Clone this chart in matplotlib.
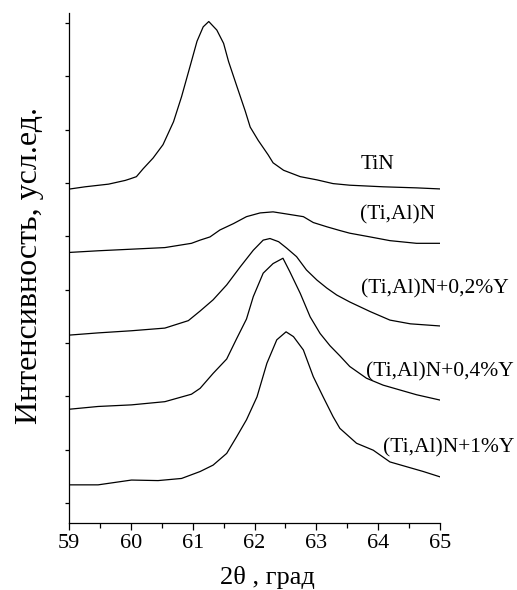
import matplotlib.pyplot as plt
from matplotlib.ticker import MultipleLocator

plt.rcParams['font.family'] = ['Liberation Serif', 'DejaVu Serif']

# 2theta (deg) and intensity (arb. units, curves offset vertically)
tin_x = [59.02, 59.26, 59.64, 59.91, 59.99, 60.09, 60.20, 60.36, 60.52, 60.69, 60.82,
         60.96, 61.07, 61.17, 61.26, 61.39, 61.50, 61.58, 61.71, 61.85, 61.93,
         62.06, 62.22, 62.30, 62.47, 62.74, 63.01, 63.27, 63.54, 64.08, 64.62, 65.0]
tin_y = [5.89, 5.93, 5.98, 6.05, 6.08, 6.12, 6.27, 6.47, 6.72, 7.15, 7.62,
         8.20, 8.66, 8.93, 9.03, 8.87, 8.62, 8.28, 7.83, 7.35, 7.05,
         6.80, 6.53, 6.38, 6.24, 6.12, 6.06, 5.99, 5.96, 5.93, 5.91, 5.89]

tial_x = [59.02, 59.47, 60.01, 60.55, 60.98, 61.12, 61.28, 61.44, 61.66, 61.87, 62.09,
          62.30, 62.52, 62.79, 62.95, 63.17, 63.38, 63.54, 63.87, 64.19, 64.62, 65.0]
tial_y = [4.70, 4.73, 4.76, 4.79, 4.87, 4.93, 4.99, 5.12, 5.24, 5.37, 5.44,
          5.46, 5.42, 5.37, 5.26, 5.18, 5.11, 5.06, 4.99, 4.92, 4.87, 4.87]

y02_x = [59.02, 59.47, 60.01, 60.55, 60.93, 61.12, 61.33, 61.55, 61.77, 61.98, 62.14,
         62.25, 62.39, 62.52, 62.68, 62.84, 63.01, 63.17, 63.33, 63.54, 63.87, 64.19,
         64.52, 65.0]
y02_y = [3.15, 3.19, 3.23, 3.28, 3.42, 3.60, 3.81, 4.09, 4.43, 4.74, 4.93,
         4.96, 4.90, 4.78, 4.62, 4.37, 4.18, 4.03, 3.90, 3.77, 3.59, 3.43,
         3.36, 3.32]

y04_x = [59.02, 59.47, 60.01, 60.55, 60.98, 61.12, 61.33, 61.55, 61.71, 61.87, 61.98,
         62.14, 62.30, 62.46, 62.57, 62.74, 62.90, 63.06, 63.22, 63.38, 63.54, 63.81,
         64.08, 64.35, 64.62, 65.0]
y04_y = [1.76, 1.81, 1.84, 1.90, 2.04, 2.15, 2.43, 2.70, 3.08, 3.45, 3.87,
         4.31, 4.49, 4.59, 4.34, 3.93, 3.49, 3.18, 2.95, 2.76, 2.56, 2.34,
         2.21, 2.12, 2.03, 1.93]

y1_x = [59.02, 59.47, 60.01, 60.44, 60.82, 61.12, 61.33, 61.55, 61.71, 61.87, 62.04,
        62.20, 62.36, 62.51, 62.63, 62.79, 62.95, 63.11, 63.27, 63.38, 63.65, 63.92,
        64.19, 64.46, 64.73, 65.0]
y1_y = [0.34, 0.34, 0.43, 0.42, 0.46, 0.59, 0.71, 0.93, 1.24, 1.56, 1.99,
        2.62, 3.06, 3.21, 3.12, 2.87, 2.37, 1.99, 1.62, 1.40, 1.12, 0.99,
        0.77, 0.68, 0.59, 0.49]

labels = ['TiN', '(Ti,Al)N', '(Ti,Al)N+0,2%Y', '(Ti,Al)N+0,4%Y', '(Ti,Al)N+1%Y']
label_x = [63.71, 63.71, 63.73, 63.81, 64.08]
label_y = [6.35, 5.40, 4.01, 2.46, 1.03]

fig = plt.figure(figsize=(5.17, 5.90), dpi=100)
ax = fig.add_axes([0.1335, 0.1136, 0.7176, 0.8644])

for xs, ys in [(tin_x, tin_y), (tial_x, tial_y), (y02_x, y02_y), (y04_x, y04_y), (y1_x, y1_y)]:
    ax.plot(xs, ys, color='black', lw=0.9)

for lab, lx, ly in zip(labels, label_x, label_y):
    ax.text(lx, ly, lab, fontsize=15.5, ha='left', va='center', clip_on=False)

ax.set_xlim(59, 65)
ax.set_ylim(-0.375, 9.19)
ax.xaxis.set_major_locator(MultipleLocator(1))
ax.xaxis.set_minor_locator(MultipleLocator(0.5))
ax.yaxis.set_major_locator(MultipleLocator(1))
ax.set_yticklabels([])
ax.tick_params(axis='x', which='major', direction='out', length=5, width=0.9, labelsize=16, pad=3)
ax.tick_params(axis='x', which='minor', direction='out', length=3.5, width=0.9)
ax.tick_params(axis='y', which='major', direction='out', length=3, width=0.9)
for s in ['top', 'right']:
    ax.spines[s].set_visible(False)
for s in ['left', 'bottom']:
    ax.spines[s].set_linewidth(0.9)

ax.set_xlabel('2θ , град', fontsize=19)
ax.xaxis.set_label_coords(0.536, -0.085)
ax.set_ylabel('Интенсивность, усл.ед.', fontsize=23)
ax.yaxis.set_label_coords(-0.068, 0.505)

fig.savefig('out.png', dpi=100)
